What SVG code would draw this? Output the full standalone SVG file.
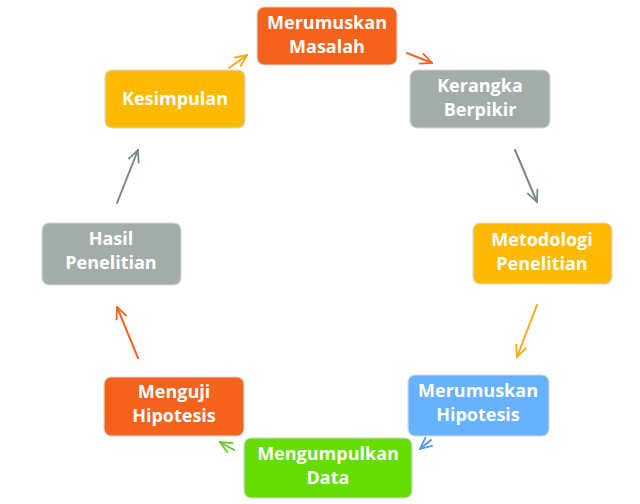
<svg xmlns="http://www.w3.org/2000/svg" width="640" height="504" viewBox="0 0 640 504">
<defs>
<style>
.box{stroke:#d8d8d8;stroke-width:1.2}
.t{font-family:"Open Sans","Noto Sans",sans-serif;font-weight:700;font-size:18px;fill:#fff;text-anchor:middle}
.c{fill:none;stroke-width:2;stroke-linecap:round}
</style>
<marker id="mOr" viewBox="0 0 14 14" refX="13" refY="7" markerWidth="14" markerHeight="14" markerUnits="userSpaceOnUse" orient="auto"><path d="M1,1.5 L13,7 L1,12.5" fill="none" stroke="#F26522" stroke-width="1.8"/></marker>
<marker id="mYe" viewBox="0 0 14 14" refX="13" refY="7" markerWidth="14" markerHeight="14" markerUnits="userSpaceOnUse" orient="auto"><path d="M1,1.5 L13,7 L1,12.5" fill="none" stroke="#F7A81B" stroke-width="1.8"/></marker>
<marker id="mGr" viewBox="0 0 14 14" refX="13" refY="7" markerWidth="14" markerHeight="14" markerUnits="userSpaceOnUse" orient="auto"><path d="M1,1.5 L13,7 L1,12.5" fill="none" stroke="#7A8886" stroke-width="1.8"/></marker>
<marker id="mBl" viewBox="0 0 14 14" refX="13" refY="7" markerWidth="14" markerHeight="14" markerUnits="userSpaceOnUse" orient="auto"><path d="M1,1.5 L13,7 L1,12.5" fill="none" stroke="#4E9CF0" stroke-width="1.8"/></marker>
<marker id="mGn" viewBox="0 0 14 14" refX="13" refY="7" markerWidth="14" markerHeight="14" markerUnits="userSpaceOnUse" orient="auto"><path d="M1,1.5 L13,7 L1,12.5" fill="none" stroke="#66CC22" stroke-width="1.8"/></marker>
</defs>
<rect width="640" height="504" fill="#fff"/>
<g id="connectors">
<line class="c" x1="229" y1="68" x2="247" y2="55" stroke="#F7A81B" marker-end="url(#mYe)"/>
<line class="c" x1="407" y1="53" x2="432" y2="63" stroke="#F26522" marker-end="url(#mOr)"/>
<line class="c" x1="515" y1="150" x2="537" y2="202" stroke="#7A8886" marker-end="url(#mGr)"/>
<line class="c" x1="537" y1="305" x2="517" y2="357" stroke="#F7A81B" marker-end="url(#mYe)"/>
<line class="c" x1="431" y1="440" x2="420" y2="449" stroke="#4E9CF0" marker-end="url(#mBl)"/>
<line class="c" x1="234" y1="450" x2="220" y2="442" stroke="#66CC22" marker-end="url(#mGn)"/>
<line class="c" x1="138" y1="358" x2="117" y2="307" stroke="#F26522" marker-end="url(#mOr)"/>
<line class="c" x1="117" y1="203" x2="138" y2="150" stroke="#7A8886" marker-end="url(#mGr)"/>
</g>
<g id="merumuskan-masalah"><rect class="box" x="257" y="7" width="140" height="58" rx="7" fill="#F4621B"/><text class="t" x="327" y="29">Merumuskan</text><text class="t" x="327" y="53">Masalah</text></g>
<g id="kerangka-berpikir"><rect class="box" x="410" y="70" width="140" height="58" rx="7" fill="#A2ADAA"/><text class="t" x="480" y="92">Kerangka</text><text class="t" x="480" y="116">Berpikir</text></g>
<g id="metodologi-penelitian"><rect class="box" x="473" y="223" width="139" height="61" rx="7" fill="#FFBA00"/><text class="t" x="542" y="246">Metodologi</text><text class="t" x="542" y="270">Penelitian</text></g>
<g id="merumuskan-hipotesis"><rect class="box" x="408" y="375" width="141" height="61" rx="7" fill="#66B2FF"/><text class="t" x="478" y="397">Merumuskan</text><text class="t" x="478" y="421">Hipotesis</text></g>
<g id="mengumpulkan-data"><rect class="box" x="244" y="438" width="168" height="60" rx="7" fill="#66DD00"/><text class="t" x="328" y="460">Mengumpulkan</text><text class="t" x="328" y="484">Data</text></g>
<g id="menguji-hipotesis"><rect class="box" x="104" y="377" width="140" height="59" rx="7" fill="#F4621B"/><text class="t" x="174" y="398">Menguji</text><text class="t" x="174" y="422">Hipotesis</text></g>
<g id="hasil-penelitian"><rect class="box" x="42" y="223" width="139" height="62" rx="7" fill="#A2ADAA"/><text class="t" x="111" y="245">Hasil</text><text class="t" x="111" y="269">Penelitian</text></g>
<g id="kesimpulan"><rect class="box" x="105" y="70" width="140" height="58" rx="7" fill="#FFBA00"/><text class="t" x="175" y="105">Kesimpulan</text></g>
</svg>
